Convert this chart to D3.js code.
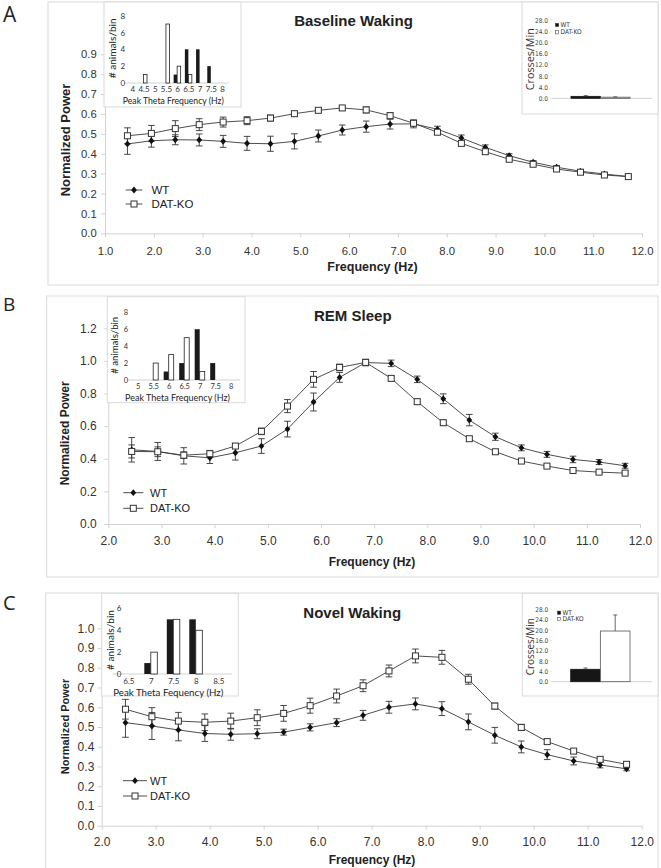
<!DOCTYPE html>
<html><head><meta charset="utf-8">
<script src="https://cdn.jsdelivr.net/npm/d3@7"></script>
<style>body{margin:0;background:#fff;} svg{display:block;}</style>
</head><body>
<svg id="fig" width="661" height="868"></svg>
<script>
// ---------------- DATA ----------------
const seriesNames = ["WT", "DAT-KO"];

// Panel A: Baseline Waking
const freqA = [1.46,1.95,2.44,2.93,3.42,3.91,4.39,4.88,5.37,5.86,6.35,6.84,7.32,7.81,8.30,8.79,9.28,9.77,10.25,10.74,11.23,11.72];
const wtA    = [0.449,0.465,0.470,0.469,0.462,0.452,0.450,0.462,0.489,0.519,0.536,0.549,0.550,0.523,0.479,0.432,0.390,0.357,0.332,0.312,0.298,0.285];
const wtAErr = [0.052,0.032,0.025,0.030,0.030,0.035,0.038,0.038,0.030,0.025,0.028,0.025,0.020,0.015,0.015,0.012,0.010,0.008,0.008,0.006,0.006,0.006];
const koA    = [0.490,0.502,0.526,0.546,0.559,0.566,0.579,0.601,0.618,0.630,0.620,0.591,0.553,0.508,0.452,0.410,0.372,0.347,0.323,0.307,0.293,0.285];
const koAErr = [0.040,0.040,0.040,0.030,0.025,0.020,0.015,0.010,0.010,0.010,0.015,0.015,0.012,0.010,0.008,0.008,0.006,0.006,0.006,0.005,0.005,0.005];
const xTicksA = [1,2,3,4,5,6,7,8,9,10,11,12];
const yTicksA = [0,0.1,0.2,0.3,0.4,0.5,0.6,0.7,0.8,0.9];

// Panel B: REM Sleep
const freqB = [2.44,2.93,3.42,3.91,4.39,4.88,5.37,5.86,6.35,6.84,7.32,7.81,8.30,8.79,9.28,9.77,10.25,10.74,11.23,11.72];
const wtB    = [0.455,0.445,0.418,0.406,0.437,0.478,0.582,0.748,0.899,0.990,0.985,0.887,0.768,0.637,0.535,0.467,0.427,0.396,0.380,0.357];
const wtBErr = [0.075,0.055,0.050,0.035,0.045,0.045,0.048,0.055,0.030,0.020,0.020,0.020,0.030,0.035,0.022,0.018,0.018,0.020,0.015,0.015];
const koB    = [0.445,0.443,0.422,0.431,0.478,0.568,0.723,0.887,0.960,0.991,0.893,0.750,0.621,0.523,0.443,0.386,0.355,0.328,0.318,0.312];
const koBErr = [0.040,0.030,0.020,0.020,0.015,0.020,0.040,0.048,0.020,0.010,0.015,0.015,0.015,0.010,0.010,0.008,0.008,0.008,0.008,0.008];
const xTicksB = [2,3,4,5,6,7,8,9,10,11,12];
const yTicksB = [0,0.2,0.4,0.6,0.8,1.0,1.2];

// Panel C: Novel Waking
const freqC = [2.44,2.93,3.42,3.91,4.39,4.88,5.37,5.86,6.35,6.84,7.32,7.81,8.30,8.79,9.28,9.77,10.25,10.74,11.23,11.72];
const wtC    = [0.522,0.505,0.485,0.467,0.463,0.466,0.474,0.498,0.522,0.559,0.600,0.617,0.593,0.526,0.458,0.399,0.360,0.328,0.308,0.288];
const wtCErr = [0.074,0.068,0.055,0.040,0.030,0.025,0.015,0.018,0.020,0.025,0.030,0.030,0.035,0.040,0.040,0.030,0.025,0.020,0.015,0.010];
const koC    = [0.590,0.552,0.530,0.524,0.530,0.547,0.569,0.608,0.657,0.709,0.784,0.860,0.853,0.742,0.606,0.498,0.426,0.378,0.336,0.311];
const koCErr = [0.050,0.046,0.044,0.042,0.040,0.040,0.040,0.038,0.035,0.030,0.030,0.035,0.035,0.025,0.015,0.015,0.010,0.010,0.010,0.010];
const xTicksC = [2,3,4,5,6,7,8,9,10,11,12];
const yTicksC = [0,0.1,0.2,0.3,0.4,0.5,0.6,0.7,0.8,0.9,1.0];

// Histogram insets (# animals/bin vs peak theta frequency)
const histCatsA = ["4","4.5","5","5.5","6","6.5","7","7.5","8"];
const histWtA   = [0,0,0,0,1,4,4,2,0];
const histKoA   = [0,1,0,7,2,1,0,0,0];
const histYTicksA = [0,2,4,6,8];
const histCatsB = ["5","5.5","6","6.5","7","7.5","8"];
const histWtB   = [0,0,1,2,6,2,0];
const histKoB   = [0,2,3,5,1,0,0];
const histYTicksB = [0,2,4,6,8];
const histCatsC = ["6.5","7","7.5","8","8.5"];
const histWtC   = [0,1,5,5,0];
const histKoC   = [0,2,5,4,0];
const histYTicksC = [0,2,4,6];

// Crosses/Min insets
const crossA    = [0.7, 0.4];
const crossAErr = [0.25, 0.12];
const crossC    = [4.8, 19.6];
const crossCErr = [0.5, 6.2];
const crossYTicks = [0,4,8,12,16,20,24,28];

// ---------------- DRAWING ----------------
const svg = d3.select("#fig");
const ARIAL = "'Liberation Sans', Arial, sans-serif";
const HUMAN = "Lato, 'Open Sans', sans-serif";
const NARROW = "'Liberation Sans Narrow', 'DejaVu Sans Condensed', sans-serif";
const fmt1 = d3.format(".1f");
const fmtInt = d3.format("d");
const AX = "#d2d2d2";
const BOX = "#dadada";

function zip(f, v, e) { return f.map((d, i) => ({ f: d, v: v[i], e: e[i] })); }

function diamond(sel) {
  sel.append("path").attr("d", "M0,-3.4L2.9,0L0,3.4L-2.9,0Z").attr("fill", "#111");
}
function square(sel) {
  sel.append("rect").attr("x", -3).attr("y", -3).attr("width", 6).attr("height", 6)
    .attr("fill", "#fff").attr("stroke", "#333").attr("stroke-width", 1);
}

function styleAxis(g, size, family) {
  g.attr("font-family", family).attr("font-size", size);
  g.select(".domain").attr("stroke", AX);
  g.selectAll(".tick line").attr("stroke", AX);
  g.selectAll(".tick text").attr("fill", "#333");
}

function linePanel(c) {
  const g = svg.append("g");
  g.append("rect").attr("x", c.box[0]).attr("y", c.box[1])
    .attr("width", c.box[2] - c.box[0]).attr("height", c.box[3] - c.box[1])
    .attr("fill", "#fff").attr("stroke", BOX);
  g.append("text").text(c.letter).attr("x", 3).attr("y", c.letterY)
    .attr("font-family", "'Open Sans', sans-serif").attr("font-size", c.letterSize).attr("fill", "#222");

  const x = d3.scaleLinear().domain(c.xDomain).range(c.xRange);
  const y = d3.scaleLinear().domain(c.yDomain).range(c.yRange);

  const gx = g.append("g").attr("transform", `translate(0,${c.yRange[0]})`)
    .call(d3.axisBottom(x).tickValues(c.xTicks).tickFormat(fmt1).tickSize(4).tickSizeOuter(0).tickPadding(c.xPad));
  styleAxis(gx, c.tick, ARIAL);
  const gy = g.append("g").attr("transform", `translate(${c.xRange[0]},0)`)
    .call(d3.axisLeft(y).tickValues(c.yTicks).tickFormat(fmt1).tickSize(4).tickSizeOuter(0).tickPadding(c.yPad));
  styleAxis(gy, c.tick, ARIAL);

  g.append("text").text(c.title).attr("x", c.titlePos[0]).attr("y", c.titlePos[1])
    .attr("text-anchor", "middle").attr("font-family", ARIAL).attr("font-weight", "bold")
    .attr("font-size", 15).attr("fill", "#222");
  g.append("text").text("Frequency (Hz)").attr("x", c.xlab[0]).attr("y", c.xlab[1])
    .attr("text-anchor", "middle").attr("font-family", ARIAL).attr("font-weight", "bold")
    .attr("font-size", c.xlab[2]).attr("fill", "#222");
  g.append("text").text("Normalized Power")
    .attr("transform", `translate(${c.ylab[0]},${c.ylab[1]}) rotate(-90)`)
    .attr("text-anchor", "middle").attr("dominant-baseline", "central")
    .attr("font-family", ARIAL).attr("font-weight", "bold")
    .attr("font-size", c.ylab[2]).attr("fill", "#222");

  const wt = zip(c.freq, c.wt, c.wtErr), ko = zip(c.freq, c.ko, c.koErr);
  const line = d3.line().x(d => x(d.f)).y(d => y(d.v));
  [ko, wt].forEach(s => g.append("path").datum(s).attr("d", line)
    .attr("fill", "none").attr("stroke", "#3a3a3a").attr("stroke-width", 0.9));

  [wt, ko].forEach(s => {
    const eb = g.append("g").attr("stroke", "#333").attr("stroke-width", 0.9);
    s.forEach(d => {
      const xx = x(d.f), y1 = y(d.v + d.e), y2 = y(d.v - d.e);
      eb.append("line").attr("x1", xx).attr("x2", xx).attr("y1", y1).attr("y2", y2);
      eb.append("line").attr("x1", xx - 3.3).attr("x2", xx + 3.3).attr("y1", y1).attr("y2", y1);
      eb.append("line").attr("x1", xx - 3.3).attr("x2", xx + 3.3).attr("y1", y2).attr("y2", y2);
    });
  });
  g.selectAll(".wtm").data(wt).join("g").attr("class", "wtm")
    .attr("transform", d => `translate(${x(d.f)},${y(d.v)})`).call(diamond);
  g.selectAll(".kom").data(ko).join("g").attr("class", "kom")
    .attr("transform", d => `translate(${x(d.f)},${y(d.v)})`).call(square);

  // legend
  seriesNames.forEach((n, i) => {
    const ly = c.leg.y[i];
    g.append("line").attr("x1", c.leg.x1).attr("x2", c.leg.x2).attr("y1", ly).attr("y2", ly)
      .attr("stroke", "#3a3a3a").attr("stroke-width", 0.9);
    g.append("g").attr("transform", `translate(${(c.leg.x1 + c.leg.x2) / 2},${ly})`).call(i === 0 ? diamond : square);
    g.append("text").text(n).attr("x", c.leg.tx).attr("y", ly).attr("dominant-baseline", "central")
      .attr("font-family", ARIAL).attr("font-size", c.leg.size).attr("fill", "#222");
  });
}

function histInset(c) {
  const g = svg.append("g");
  g.append("rect").attr("x", c.box[0]).attr("y", c.box[1])
    .attr("width", c.box[2] - c.box[0]).attr("height", c.box[3] - c.box[1])
    .attr("fill", "#fff").attr("stroke", BOX);
  const x = d3.scalePoint().domain(c.cats).range(c.xRange);
  const y = d3.scaleLinear().domain([0, c.yMax]).range(c.yRange);
  const step = x.step();
  g.append("line").attr("x1", c.xRange[0] - step * 0.7).attr("x2", c.xRange[1] + step * 0.6)
    .attr("y1", c.yRange[0]).attr("y2", c.yRange[0]).attr("stroke", AX);
  const gx = g.append("g").attr("transform", `translate(0,${c.yRange[0]})`)
    .call(d3.axisBottom(x).tickSize(0).tickPadding(c.xPad));
  gx.select(".domain").remove();
  gx.attr("font-family", HUMAN).attr("font-size", c.tick).selectAll("text").attr("fill", "#333");
  const gy = g.append("g").attr("transform", `translate(${c.yAxisX},0)`)
    .call(d3.axisLeft(y).tickValues(c.yTicks).tickFormat(fmtInt).tickSize(0).tickPadding(0));
  gy.select(".domain").remove();
  gy.attr("font-family", HUMAN).attr("font-size", c.tick).attr("text-anchor", "middle")
    .selectAll("text").attr("fill", "#333").attr("x", 0);

  const bw = c.bw;
  g.selectAll(".hw").data(c.cats.map((k, i) => ({ k, v: c.wt[i] })).filter(d => d.v > 0)).join("rect")
    .attr("x", d => x(d.k) - bw).attr("width", bw)
    .attr("y", d => y(d.v)).attr("height", d => y(0) - y(d.v)).attr("fill", "#1a1a1a");
  g.selectAll(".hk").data(c.cats.map((k, i) => ({ k, v: c.ko[i] })).filter(d => d.v > 0)).join("rect")
    .attr("x", d => x(d.k)).attr("width", bw)
    .attr("y", d => y(d.v)).attr("height", d => y(0) - y(d.v))
    .attr("fill", "#fff").attr("stroke", "#222").attr("stroke-width", 0.8);

  g.append("text").text(c.xlabel).attr("x", c.xlab[0]).attr("y", c.xlab[1])
    .attr("text-anchor", "middle").attr("dominant-baseline", "central")
    .attr("font-family", HUMAN).attr("font-size", c.labSize).attr("fill", "#222")
    .attr("textLength", c.xlab[2]).attr("lengthAdjust", "spacingAndGlyphs");
  g.append("text").text("# animals/bin")
    .attr("transform", `translate(${c.ylab[0]},${c.ylab[1]}) rotate(-90)`)
    .attr("text-anchor", "middle").attr("dominant-baseline", "central")
    .attr("font-family", HUMAN).attr("font-size", c.ylabSize).attr("fill", "#222")
    .attr("textLength", c.ylab[2]).attr("lengthAdjust", "spacingAndGlyphs");
}

function crossInset(c) {
  const g = svg.append("g");
  g.append("rect").attr("x", c.box[0]).attr("y", c.box[1])
    .attr("width", c.box[2] - c.box[0]).attr("height", c.box[3] - c.box[1])
    .attr("fill", "#fff").attr("stroke", BOX);
  const x = d3.scaleBand().domain(seriesNames).range(c.band).padding(0);
  const y = d3.scaleLinear().domain([0, 28]).range(c.yRange);
  g.append("line").attr("x1", c.axisX[0]).attr("x2", c.axisX[1])
    .attr("y1", y(0)).attr("y2", y(0)).attr("stroke", AX);
  const gy = g.append("g").attr("transform", `translate(${c.tickX},0)`)
    .call(d3.axisLeft(y).tickValues(crossYTicks).tickFormat(fmt1).tickSize(0).tickPadding(0));
  gy.select(".domain").remove();
  gy.attr("font-family", NARROW).attr("font-size", 6.5).selectAll("text").attr("fill", "#444");
  g.selectAll(".ct").data(crossYTicks).join("line")
    .attr("x1", c.axisX[0] - 2).attr("x2", c.axisX[0]).attr("y1", d => y(d)).attr("y2", d => y(d))
    .attr("stroke", "#e6e6e6");

  const data = seriesNames.map((n, i) => ({ n, v: c.vals[i], e: c.errs[i] }));
  g.selectAll(".cb").data(data).join("rect")
    .attr("x", d => x(d.n)).attr("width", x.bandwidth())
    .attr("y", d => y(d.v)).attr("height", d => y(0) - y(d.v))
    .attr("fill", (d, i) => i === 0 ? "#161616" : "#fff")
    .attr("stroke", (d, i) => i === 0 ? "#161616" : "#555").attr("stroke-width", 0.8);
  data.forEach(d => {
    const cx = x(d.n) + x.bandwidth() / 2;
    g.append("line").attr("x1", cx).attr("x2", cx).attr("y1", y(d.v)).attr("y2", y(d.v + d.e))
      .attr("stroke", "#444").attr("stroke-width", 0.8);
    g.append("line").attr("x1", cx - 2).attr("x2", cx + 2).attr("y1", y(d.v + d.e)).attr("y2", y(d.v + d.e))
      .attr("stroke", "#444").attr("stroke-width", 0.8);
  });
  g.append("text").text("Crosses/Min")
    .attr("transform", `translate(${c.ylab[0]},${c.ylab[1]}) rotate(-90)`)
    .attr("text-anchor", "middle").attr("dominant-baseline", "central")
    .attr("font-family", "'Open Sans', sans-serif").attr("font-size", 10).attr("fill", "#333")
    .attr("textLength", c.ylab[2]).attr("lengthAdjust", "spacingAndGlyphs");
  seriesNames.forEach((n, i) => {
    const ly = c.leg[1] + i * c.leg[2];
    g.append("rect").attr("x", c.leg[0]).attr("y", ly - 1.6).attr("width", 3.2).attr("height", 3.2)
      .attr("fill", i === 0 ? "#111" : "#fff").attr("stroke", "#333").attr("stroke-width", 0.5);
    g.append("text").text(n).attr("x", c.leg[0] + 5).attr("y", ly).attr("dominant-baseline", "central")
      .attr("font-family", NARROW).attr("font-size", 6.5).attr("fill", "#333");
  });
}

// ---------- Panel A ----------
linePanel({
  letter: "A", letterY: 22, letterSize: 21,
  box: [48, 2, 658, 285],
  xDomain: [1, 12], xRange: [105, 642], yDomain: [0, 1], yRange: [233.3, 34.3],
  xTicks: xTicksA, yTicks: yTicksA, tick: 11.3, xPad: 10, yPad: 4.3,
  title: "Baseline Waking", titlePos: [353.5, 26],
  xlab: [372.5, 271, 12.5], ylab: [65.5, 140, 13],
  freq: freqA, wt: wtA, wtErr: wtAErr, ko: koA, koErr: koAErr,
  leg: { x1: 125.7, x2: 142.3, tx: 151.5, y: [190, 204], size: 11.5 }
});
histInset({
  box: [104, 2, 241, 107], cats: histCatsA, wt: histWtA, ko: histKoA, yMax: 8, yTicks: histYTicksA,
  xRange: [132.3, 222], yRange: [83, 15.6], bw: 3.5, tick: 8, xPad: 3.5, yAxisX: 122.7,
  xlabel: "Peak Theta Frequency (Hz)", xlab: [173.3, 100.3, 101], ylab: [112.3, 48.3, 60], labSize: 9, ylabSize: 9
});
crossInset({
  box: [522, 2, 658, 114], band: [571, 630], yRange: [98.3, 20], tickX: 548, axisX: [552, 652],
  vals: crossA, errs: crossAErr, ylab: [530, 59.2, 62], leg: [555.5, 25, 7.3]
});

// ---------- Panel B ----------
linePanel({
  letter: "B", letterY: 311, letterSize: 19,
  box: [46.7, 296, 658, 577],
  xDomain: [2, 12], xRange: [108.3, 640], yDomain: [0, 1.2], yRange: [524, 328.3],
  xTicks: xTicksB, yTicks: yTicksB, tick: 12, xPad: 8.5, yPad: 7.6,
  title: "REM Sleep", titlePos: [352.8, 320.7],
  xlab: [372, 566, 12], ylab: [65, 433.3, 12],
  freq: freqB, wt: wtB, wtErr: wtBErr, ko: koB, koErr: koBErr,
  leg: { x1: 123.3, x2: 143.3, tx: 150, y: [492.7, 508.3], size: 11 }
});
histInset({
  box: [107.3, 296.7, 245, 402.7], cats: histCatsB, wt: histWtB, ko: histKoB, yMax: 8, yTicks: histYTicksB,
  xRange: [137.7, 230.7], yRange: [380, 312.3], bw: 5, tick: 7.5, xPad: 4, yAxisX: 126,
  xlabel: "Peak Theta Frequency (Hz)", xlab: [177.5, 397.3, 105], ylab: [115, 345.3, 57], labSize: 9, ylabSize: 8.5
});

// ---------- Panel C ----------
linePanel({
  letter: "C", letterY: 610, letterSize: 20,
  box: [45.7, 593, 658, 880],
  xDomain: [2, 12], xRange: [101.7, 641.7], yDomain: [0, 1], yRange: [825.7, 628.3],
  xTicks: xTicksC, yTicks: yTicksC, tick: 12, xPad: 7.7, yPad: 3.4,
  title: "Novel Waking", titlePos: [352.2, 618],
  xlab: [372, 864, 12], ylab: [65, 726.5, 11],
  freq: freqC, wt: wtC, wtErr: wtCErr, ko: koC, koErr: koCErr,
  leg: { x1: 123, x2: 147, tx: 150, y: [780.7, 796], size: 11 }
});
histInset({
  box: [101.7, 593.3, 238.3, 696], cats: histCatsC, wt: histWtC, ko: histKoC, yMax: 6, yTicks: histYTicksC,
  xRange: [128.3, 218.3], yRange: [674, 608.4], bw: 6.5, tick: 8, xPad: 4, yAxisX: 119,
  xlabel: "Peak Theta Fequency (Hz)", xlab: [168.3, 691.7, 110], ylab: [110, 640, 60], labSize: 10, ylabSize: 9.5
});
crossInset({
  box: [522.3, 593.3, 658, 696], band: [570.7, 630], yRange: [681.7, 609.3], tickX: 548.3, axisX: [551.7, 651.7],
  vals: crossC, errs: crossCErr, ylab: [530, 646.7, 57], leg: [557.5, 612.7, 6.3]
});
</script>
</body></html>
